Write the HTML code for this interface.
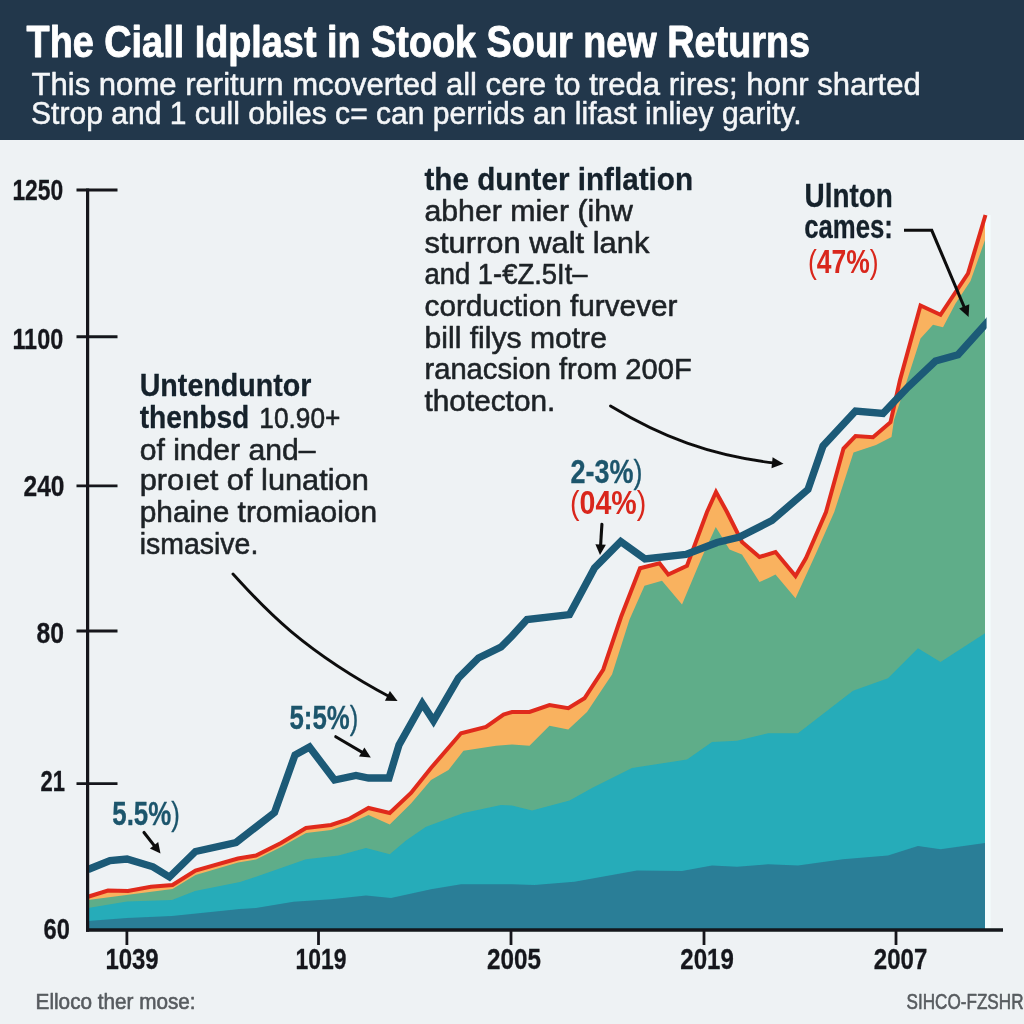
<!DOCTYPE html>
<html lang="en"><head><meta charset="utf-8"><title>The Ciall Idplast in Stook Sour new Returns</title>
<style>html,body{margin:0;padding:0;background:#eef2f4;}body{width:1024px;height:1024px;overflow:hidden;}svg{display:block;font-family:"Liberation Sans",sans-serif;}</style>
</head><body>
<svg width="1024" height="1024" viewBox="0 0 1024 1024">
<defs><filter id="soft" x="0" y="0" width="1024" height="1024" filterUnits="userSpaceOnUse"><feGaussianBlur stdDeviation="0.55"/></filter></defs>
<rect width="1024" height="1024" fill="#eef2f4"/>
<rect width="1024" height="140" fill="#22374b"/>
<g filter="url(#soft)">
<text x="26.6" y="56.7" font-size="45" font-weight="bold" fill="#ffffff" text-anchor="start" textLength="783.5" lengthAdjust="spacingAndGlyphs" stroke="#ffffff" stroke-width="0.9" stroke-linejoin="round">The Ciall Idplast in Stook Sour new Returns</text>
<text x="31.5" y="95.3" font-size="30.6" font-weight="normal" fill="#f4f6f8" text-anchor="start" textLength="889.3" lengthAdjust="spacingAndGlyphs" stroke="#f4f6f8" stroke-width="0.5" stroke-linejoin="round">This nome reriturn mcoverted all cere to treda rires; honr sharted</text>
<text x="31" y="124" font-size="30.6" font-weight="normal" fill="#f4f6f8" text-anchor="start" textLength="770.5" lengthAdjust="spacingAndGlyphs" stroke="#f4f6f8" stroke-width="0.5" stroke-linejoin="round">Strop and 1 cull obiles c= can perrids an lifast inliey garity.</text>
<polygon fill="#f9b25f" points="88,896.75 108,890.5 128,891 151,886.75 172.5,885 195.5,870.5 238,858.5 256,855.5 281,843 306,828 331,825 348.5,819.25 368.5,808 389.75,813 411,793 431,768 461,733.25 486,727 503.5,714.5 512,712 529.5,712 549.5,705 568.25,708.25 584.5,698.25 603.25,669.5 621,617 640,568.25 659.5,563.25 668.25,574.5 687,565.75 707,512 716,492 727,512 742,542 759.5,557 775.5,552 795.5,576 806,558 826,512 843.5,448.5 855.5,436 873,437.25 890.5,422.25 900,380 920.5,305.5 940.5,314.75 968,273.5 985,215 985,930.5 87.5,930.5"/>
<polygon fill="#5fad89" points="88,900 130,894.5 172.5,889 195.5,875 238,862.5 256,859.5 281,847 306,833 331,830 348.5,824 368.5,815 389.75,824.5 411,803.5 431,780 448.5,770 463.5,750.75 496,745.75 512,744.5 529.5,745.75 549.5,725.75 568.25,729.5 587,712 612,674.5 629.5,619.5 644.5,585.75 662,580.75 682,604.5 702,557 715.75,527 729.5,549.5 742,554.5 759.5,582 768,578.25 775.5,574.5 795.5,598.25 815.5,554.5 834.25,512 853.5,452.5 876,445 891.5,437 894,420 901,399 920.5,338.5 933,324.75 943,327.25 955.5,303.5 970.5,281 985,240 985,930.5 87.5,930.5"/>
<polygon fill="#25acb9" points="88,908 127,901.5 172,900 195,891 240,882 256,876.75 306,859.25 338.5,855.5 366,848 389.75,854.25 406,840.5 426,826.75 463.5,813 501,805 512,805.5 532,810.5 569.5,800.5 592,788 632,768 687,759.5 712,742 737,740.75 768,733.25 798,733.25 853,690.75 888,678.25 918,648.25 940.5,662 985,633.25 985,930.5 87.5,930.5"/>
<polygon fill="#2a7e97" points="88,921 127,918 172,916 240,909 256,908 293.5,901.75 331,899.25 366,895.5 391,898 431,889.25 461,884.25 512,884.25 534.5,885 574.5,881.75 637,870.5 682,871 712,865.5 737,866.75 768,864.25 798,865.5 843,859.25 888,855.5 918,846 940.5,849.25 985,843 985,930.5 87.5,930.5"/>
<rect x="985" y="215" width="5.5" height="713" fill="#f4fdfe"/>
<clipPath id="plot"><rect x="86" y="150" width="900.6" height="790"/></clipPath>
<polyline fill="none" stroke="#e02c1b" stroke-width="4" stroke-linejoin="miter" stroke-linecap="butt" points="88,896.75 108,890.5 128,891 151,886.75 172.5,885 195.5,870.5 238,858.5 256,855.5 281,843 306,828 331,825 348.5,819.25 368.5,808 389.75,813 411,793 431,768 461,733.25 486,727 503.5,714.5 512,712 529.5,712 549.5,705 568.25,708.25 584.5,698.25 603.25,669.5 621,617 640,568.25 659.5,563.25 668.25,574.5 687,565.75 707,512 716,492 727,512 742,542 759.5,557 775.5,552 795.5,576 806,558 826,512 843.5,448.5 855.5,436 873,437.25 890.5,422.25 900,380 920.5,305.5 940.5,314.75 968,273.5 985.5,215"/>
<g clip-path="url(#plot)">
<polyline fill="none" stroke="#1b5a77" stroke-width="7.3" stroke-linejoin="miter" stroke-linecap="butt" points="88,869.5 110,860.5 127,859 153,866.8 169.5,877 195.5,851.5 236,842.5 256,827 274.5,812.5 295,755 309.5,747 334.5,780 356,775.5 368.5,778 389,778 399,745 422.3,703.5 433.5,720.75 458.5,678 478.5,658 501,647 512,636 527,619.5 569.5,614.5 594.5,568 620.75,541.5 645,559 686,554.5 717,542.5 739.5,537 772,520.5 808,489.5 823,446 855.5,411 883,413.5 908,387 935.5,361 958,354.75 990,319.2"/>
</g>
<line x1="87.6" y1="188.6" x2="87.6" y2="931.8" stroke="#15191d" stroke-width="3.2"/>
<line x1="86" y1="930" x2="1003" y2="930" stroke="#15191d" stroke-width="3.6"/>
<line x1="76.5" y1="190" x2="117.5" y2="190" stroke="#15191d" stroke-width="2.8"/>
<line x1="76.5" y1="336.75" x2="117.5" y2="336.75" stroke="#15191d" stroke-width="2.8"/>
<line x1="76.5" y1="485.8" x2="117.5" y2="485.8" stroke="#15191d" stroke-width="2.8"/>
<line x1="76.5" y1="631" x2="117.5" y2="631" stroke="#15191d" stroke-width="2.8"/>
<line x1="76.5" y1="783.7" x2="117.5" y2="783.7" stroke="#15191d" stroke-width="2.8"/>
<line x1="126.9" y1="930" x2="126.9" y2="945" stroke="#15191d" stroke-width="2.8"/>
<line x1="318.5" y1="930" x2="318.5" y2="945" stroke="#15191d" stroke-width="2.8"/>
<line x1="511" y1="930" x2="511" y2="945" stroke="#15191d" stroke-width="2.8"/>
<line x1="704" y1="930" x2="704" y2="945" stroke="#15191d" stroke-width="2.8"/>
<line x1="896" y1="930" x2="896" y2="945" stroke="#15191d" stroke-width="2.8"/>
<text x="12.4" y="200.25" font-size="30" font-weight="bold" fill="#15191d" text-anchor="start" textLength="50.8" lengthAdjust="spacingAndGlyphs" stroke="#15191d" stroke-width="0.3" stroke-linejoin="round">1250</text>
<text x="12.4" y="348.75" font-size="30" font-weight="bold" fill="#15191d" text-anchor="start" textLength="50.8" lengthAdjust="spacingAndGlyphs" stroke="#15191d" stroke-width="0.3" stroke-linejoin="round">1100</text>
<text x="23.5" y="496.4" font-size="30" font-weight="bold" fill="#15191d" text-anchor="start" textLength="41" lengthAdjust="spacingAndGlyphs" stroke="#15191d" stroke-width="0.3" stroke-linejoin="round">240</text>
<text x="36.5" y="642.8" font-size="30" font-weight="bold" fill="#15191d" text-anchor="start" textLength="27.5" lengthAdjust="spacingAndGlyphs" stroke="#15191d" stroke-width="0.3" stroke-linejoin="round">80</text>
<text x="40.5" y="790.6" font-size="30" font-weight="bold" fill="#15191d" text-anchor="start" textLength="24.5" lengthAdjust="spacingAndGlyphs" stroke="#15191d" stroke-width="0.3" stroke-linejoin="round">21</text>
<text x="43.5" y="939.1" font-size="30" font-weight="bold" fill="#15191d" text-anchor="start" textLength="26.3" lengthAdjust="spacingAndGlyphs" stroke="#15191d" stroke-width="0.3" stroke-linejoin="round">60</text>
<text x="105.4" y="969.1" font-size="30" font-weight="bold" fill="#15191d" text-anchor="start" textLength="53.3" lengthAdjust="spacingAndGlyphs" stroke="#15191d" stroke-width="0.3" stroke-linejoin="round">1039</text>
<text x="295.4" y="969.1" font-size="30" font-weight="bold" fill="#15191d" text-anchor="start" textLength="51" lengthAdjust="spacingAndGlyphs" stroke="#15191d" stroke-width="0.3" stroke-linejoin="round">1019</text>
<text x="487" y="969.1" font-size="30" font-weight="bold" fill="#15191d" text-anchor="start" textLength="54" lengthAdjust="spacingAndGlyphs" stroke="#15191d" stroke-width="0.3" stroke-linejoin="round">2005</text>
<text x="680.3" y="969.1" font-size="30" font-weight="bold" fill="#15191d" text-anchor="start" textLength="53.5" lengthAdjust="spacingAndGlyphs" stroke="#15191d" stroke-width="0.3" stroke-linejoin="round">2019</text>
<text x="873.8" y="969.1" font-size="30" font-weight="bold" fill="#15191d" text-anchor="start" textLength="53.5" lengthAdjust="spacingAndGlyphs" stroke="#15191d" stroke-width="0.3" stroke-linejoin="round">2007</text>
<text x="35.6" y="1008.6" font-size="22" font-weight="normal" fill="#575b5f" text-anchor="start" textLength="160" lengthAdjust="spacingAndGlyphs" stroke="#575b5f" stroke-width="0.6" stroke-linejoin="round">Elloco ther mose:</text>
<text x="906.5" y="1009.2" font-size="21.5" font-weight="normal" fill="#575b5f" text-anchor="start" textLength="117" lengthAdjust="spacingAndGlyphs" stroke="#575b5f" stroke-width="0.6" stroke-linejoin="round">SIHCO-FZSHR</text>
<text x="424.5" y="190" font-size="32" font-weight="bold" fill="#13202c" text-anchor="start" textLength="268.5" lengthAdjust="spacingAndGlyphs" stroke="#13202c" stroke-width="0.3" stroke-linejoin="round">the dunter inflation</text>
<text x="424.5" y="221" font-size="30" font-weight="normal" fill="#1f2327" text-anchor="start" textLength="208.3" lengthAdjust="spacingAndGlyphs" stroke="#1f2327" stroke-width="0.6" stroke-linejoin="round">abher mier (ihw</text>
<text x="424.5" y="253" font-size="30" font-weight="normal" fill="#1f2327" text-anchor="start" textLength="224.9" lengthAdjust="spacingAndGlyphs" stroke="#1f2327" stroke-width="0.6" stroke-linejoin="round">sturron walt lank</text>
<text x="424.5" y="283.8" font-size="30" font-weight="normal" fill="#1f2327" text-anchor="start" textLength="163" lengthAdjust="spacingAndGlyphs" stroke="#1f2327" stroke-width="0.6" stroke-linejoin="round">and 1-€Z.5It–</text>
<text x="424.5" y="315.6" font-size="30" font-weight="normal" fill="#1f2327" text-anchor="start" textLength="253" lengthAdjust="spacingAndGlyphs" stroke="#1f2327" stroke-width="0.6" stroke-linejoin="round">corduction furvever</text>
<text x="424.5" y="348.4" font-size="30" font-weight="normal" fill="#1f2327" text-anchor="start" textLength="182.4" lengthAdjust="spacingAndGlyphs" stroke="#1f2327" stroke-width="0.6" stroke-linejoin="round">bill filys motre</text>
<text x="424.5" y="379.2" font-size="30" font-weight="normal" fill="#1f2327" text-anchor="start" textLength="267.3" lengthAdjust="spacingAndGlyphs" stroke="#1f2327" stroke-width="0.6" stroke-linejoin="round">ranacsion from 200F</text>
<text x="424.5" y="411" font-size="30" font-weight="normal" fill="#1f2327" text-anchor="start" textLength="130.8" lengthAdjust="spacingAndGlyphs" stroke="#1f2327" stroke-width="0.6" stroke-linejoin="round">thotecton.</text>
<text x="139.7" y="396" font-size="32" font-weight="bold" fill="#13202c" text-anchor="start" textLength="171.7" lengthAdjust="spacingAndGlyphs" stroke="#13202c" stroke-width="0.3" stroke-linejoin="round">Untenduntor</text>
<text x="139.7" y="427.5" font-size="32" font-weight="bold" fill="#13202c" text-anchor="start" textLength="109.6" lengthAdjust="spacingAndGlyphs" stroke="#13202c" stroke-width="0.3" stroke-linejoin="round">thenbsd</text>
<text x="259.3" y="427.5" font-size="30" font-weight="normal" fill="#1f2327" text-anchor="start" textLength="81" lengthAdjust="spacingAndGlyphs" stroke="#1f2327" stroke-width="0.6" stroke-linejoin="round">10.90+</text>
<text x="139.7" y="459.8" font-size="30" font-weight="normal" fill="#1f2327" text-anchor="start" textLength="175.8" lengthAdjust="spacingAndGlyphs" stroke="#1f2327" stroke-width="0.6" stroke-linejoin="round">of inder and–</text>
<text x="139.7" y="490.4" font-size="30" font-weight="normal" fill="#1f2327" text-anchor="start" textLength="229.1" lengthAdjust="spacingAndGlyphs" stroke="#1f2327" stroke-width="0.6" stroke-linejoin="round">proıet of lunation</text>
<text x="139.7" y="521.9" font-size="30" font-weight="normal" fill="#1f2327" text-anchor="start" textLength="237.3" lengthAdjust="spacingAndGlyphs" stroke="#1f2327" stroke-width="0.6" stroke-linejoin="round">phaine tromiaoion</text>
<text x="139.7" y="554.1" font-size="30" font-weight="normal" fill="#1f2327" text-anchor="start" textLength="118.6" lengthAdjust="spacingAndGlyphs" stroke="#1f2327" stroke-width="0.6" stroke-linejoin="round">ismasive.</text>
<text x="804.5" y="207" font-size="33" font-weight="bold" fill="#13202c" text-anchor="start" textLength="88.4" lengthAdjust="spacingAndGlyphs" stroke="#13202c" stroke-width="0.3" stroke-linejoin="round">Ulnton</text>
<text x="804.2" y="237.9" font-size="33" font-weight="bold" fill="#13202c" text-anchor="start" textLength="88.7" lengthAdjust="spacingAndGlyphs" stroke="#13202c" stroke-width="0.3" stroke-linejoin="round">cames:</text>
<text x="807.9" y="273" font-size="33" font-weight="bold" fill="#d9281c" text-anchor="start" textLength="70.6" lengthAdjust="spacingAndGlyphs"><tspan font-weight="normal">(</tspan>47%<tspan font-weight="normal">)</tspan></text>
<text x="112.3" y="824.5" font-size="33" font-weight="bold" fill="#1c556c" text-anchor="start" textLength="67.5" lengthAdjust="spacingAndGlyphs" stroke="#1c556c" stroke-width="0.3" stroke-linejoin="round">5.5%<tspan font-weight="normal">)</tspan></text>
<text x="289.5" y="728.6" font-size="33" font-weight="bold" fill="#1c556c" text-anchor="start" textLength="68.75" lengthAdjust="spacingAndGlyphs" stroke="#1c556c" stroke-width="0.3" stroke-linejoin="round">5:5%<tspan font-weight="normal">)</tspan></text>
<text x="570.6" y="483" font-size="33" font-weight="bold" fill="#1c556c" text-anchor="start" textLength="72" lengthAdjust="spacingAndGlyphs" stroke="#1c556c" stroke-width="0.3" stroke-linejoin="round">2-3%<tspan font-weight="normal">)</tspan></text>
<text x="570" y="514.25" font-size="33" font-weight="bold" fill="#d9281c" text-anchor="start" textLength="76.25" lengthAdjust="spacingAndGlyphs"><tspan font-weight="normal">(</tspan>04%<tspan font-weight="normal">)</tspan></text>
<line x1="144" y1="832.5" x2="156.6" y2="848.6" stroke="#111" stroke-width="3.1" stroke-linecap="round"/><polygon fill="#111" points="160.5,853.6 149.9,848.6 158.2,842.1"/>
<line x1="335.75" y1="736.75" x2="365.3" y2="754.2" stroke="#111" stroke-width="3.1" stroke-linecap="round"/><polygon fill="#111" points="370.8,757.4 359.0,756.6 364.4,747.5"/>
<line x1="601.9" y1="524.4" x2="600.4" y2="548.7" stroke="#111" stroke-width="3.1" stroke-linecap="round"/><polygon fill="#111" points="600.0,555.0 595.4,544.2 605.9,544.8"/>
<path d="M233,574 C258,601 296,647 391,697.5" fill="none" stroke="#111" stroke-width="2.9" stroke-linecap="round"/>
<polygon fill="#111" points="397.6,701.0 384.9,700.7 389.9,690.9"/>
<path d="M610.5,406 C660,436 710,456 777,463.3" fill="none" stroke="#111" stroke-width="2.9" stroke-linecap="round"/>
<polygon fill="#111" points="783.5,463.8 771.5,468.2 772.6,457.2"/>
<polyline points="904,230.3 931.75,230.3 965,309" fill="none" stroke="#111" stroke-width="3.1" stroke-linejoin="miter"/>
<polygon fill="#111" points="968.6,317.0 959.1,308.5 969.3,304.3"/>
</g>
</svg></body></html>
